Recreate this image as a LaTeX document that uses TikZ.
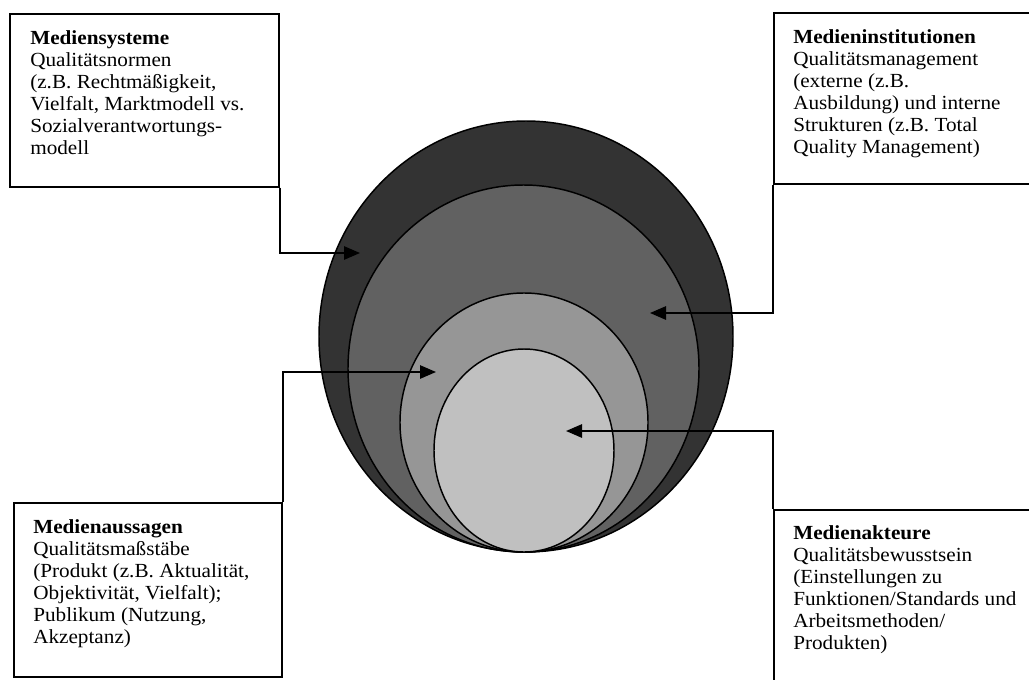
\documentclass[tikz,border=0pt]{standalone}
\usepackage{fontspec}
\setmainfont{Liberation Serif}[FakeStretch=1.06]
\usetikzlibrary{arrows.meta}
\definecolor{ringA}{HTML}{333333}
\definecolor{ringB}{HTML}{616161}
\definecolor{ringC}{HTML}{969696}
\definecolor{ringD}{HTML}{C0C0C0}
\begin{document}
\begin{tikzpicture}[x=0.75pt,y=-0.75pt,
  ring/.style={draw=black, line width=1.1pt},
  boxframe/.style={draw=black, line width=1.3pt, fill=white, inner sep=0pt, anchor=north west},
  boxtext/.style={anchor=north west, inner sep=0pt, align=left, font=\fontsize{15}{16.6}\selectfont},
  conn/.style={draw=black, line width=1.3pt, -{Triangle[length=12pt,width=10pt]}}]
\useasboundingbox (0,0) rectangle (1029,679);
\clip (0,0) rectangle (1029,679);
% rings
\draw[ring, fill=ringA] (526,336.5) ellipse [x radius=155.25pt, y radius=161.625pt];
\draw[ring, fill=ringB] (523.5,368.5) ellipse [x radius=131.625pt, y radius=137.625pt];
\draw[ring, fill=ringC] (524,422.5) ellipse [x radius=93pt, y radius=97.125pt];
\draw[ring, fill=ringD] (524,450.5) ellipse [x radius=67.5pt, y radius=76.125pt];
% boxes
\node[boxframe, minimum width=201.75pt, minimum height=129.75pt] (b1) at (9,13) {};
\node[boxframe, minimum width=225pt, minimum height=128.25pt] (b2) at (773,12) {};
\node[boxframe, minimum width=201pt, minimum height=130.5pt] (b3) at (13,502) {};
\node[boxframe, minimum width=225pt, minimum height=150pt] (b4) at (773,509) {};
% texts
\node[boxtext] (l1) at ([shift={(21,17)}]b1.north west) {\textbf{Mediensysteme}\\Qualitätsnormen\\(z.B. Rechtmäßigkeit,\\Vielfalt, Marktmodell vs.\\Sozialverantwortungs-\\modell};
\node[boxtext] (l2) at ([shift={(20,17)}]b2.north west) {\textbf{Medieninstitutionen}\\Qualitätsmanagement\\(externe (z.B.\\Ausbildung) und interne\\Strukturen (z.B. Total\\Quality Management)};
\node[boxtext] (l3) at ([shift={(20,17)}]b3.north west) {\textbf{Medienaussagen}\\Qualitätsmaßstäbe\\(Produkt (z.B. Aktualität,\\Objektivität, Vielfalt);\\Publikum (Nutzung,\\Akzeptanz)};
\node[boxtext] (l4) at ([shift={(20,16)}]b4.north west) {\textbf{Medienakteure}\\Qualitätsbewusstsein\\(Einstellungen zu\\Funktionen/Standards und\\Arbeitsmethoden/\\Produkten)};
% arrow targets
\coordinate (t1) at (360,253);
\coordinate (t2) at (650,313);
\coordinate (t3) at (436,372);
\coordinate (t4) at (566,431);
% connectors
\draw[conn] (b1.south east) |- (t1);
\draw[conn] (b2.south west) |- (t2);
\draw[conn] (b3.north east) |- (t3);
\draw[conn] (b4.north west) |- (t4);
\end{tikzpicture}
\end{document}
